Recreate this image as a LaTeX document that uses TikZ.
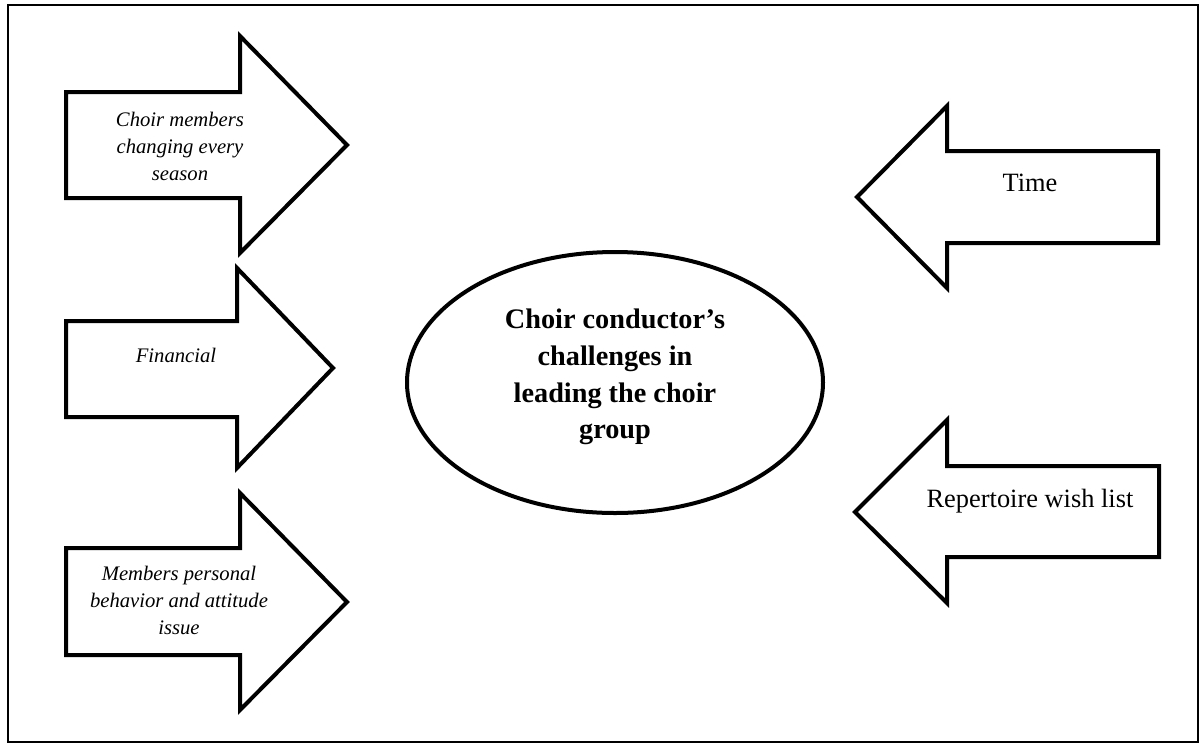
\documentclass[tikz,border=0pt]{standalone}
\usepackage{fontspec}
\setmainfont{Liberation Serif}
\begin{document}
\begin{tikzpicture}[x=0.75pt, y=-0.75pt,
    blockarrow/.style={draw, line width=3pt, line join=miter, fill=white},
    causetext/.style={font=\fontsize{15.5}{20.25}\selectfont\itshape, align=center, inner sep=0pt},
    sidetext/.style={font=\fontsize{19.8}{24}\selectfont, inner sep=0pt, anchor=base},
    coretext/.style={font=\fontsize{21.2}{27.5}\selectfont\bfseries, align=center, inner sep=0pt}]
    \useasboundingbox (0,0) rectangle (1200,744);
    \draw[line width=1.2pt] (8,5) rectangle (1198,742);
    % arrows coming in from the left
    \draw[blockarrow] (66,92) -- (240,92) -- (240,36) -- (347,145) -- (240,253) -- (240,198) -- (66,198) -- cycle;
    \draw[blockarrow] (66,321) -- (237,321) -- (237,268) -- (333,368) -- (237,468) -- (237,417) -- (66,417) -- cycle;
    \draw[blockarrow] (66,548) -- (240,548) -- (240,493) -- (347,602) -- (240,710) -- (240,655) -- (66,655) -- cycle;
    % arrows coming in from the right
    \draw[blockarrow] (1158,151) -- (947,151) -- (947,106) -- (857,197) -- (947,288) -- (947,243) -- (1158,243) -- cycle;
    \draw[blockarrow] (1159,466) -- (947,466) -- (947,420) -- (855,512) -- (947,603) -- (947,557) -- (1159,557) -- cycle;
    % the centre
    \draw[line width=3pt] (615,382.5) ellipse [x radius=208, y radius=130.5];
    \node[coretext] (core) at (615,377) {Choir conductor’s\\challenges in\\leading the choir\\group};
    \node[causetext] (members) at (180,146) {Choir members\\changing every\\season};
    \node[causetext, anchor=base] (financial) at (176,362) {Financial};
    \node[causetext] (behavior) at (179,600) {Members personal\\behavior and attitude\\issue};
    \node[sidetext] (time) at (1030,191) {Time};
    \node[sidetext] (wishlist) at (1030,507) {Repertoire wish list};
\end{tikzpicture}
\end{document}
